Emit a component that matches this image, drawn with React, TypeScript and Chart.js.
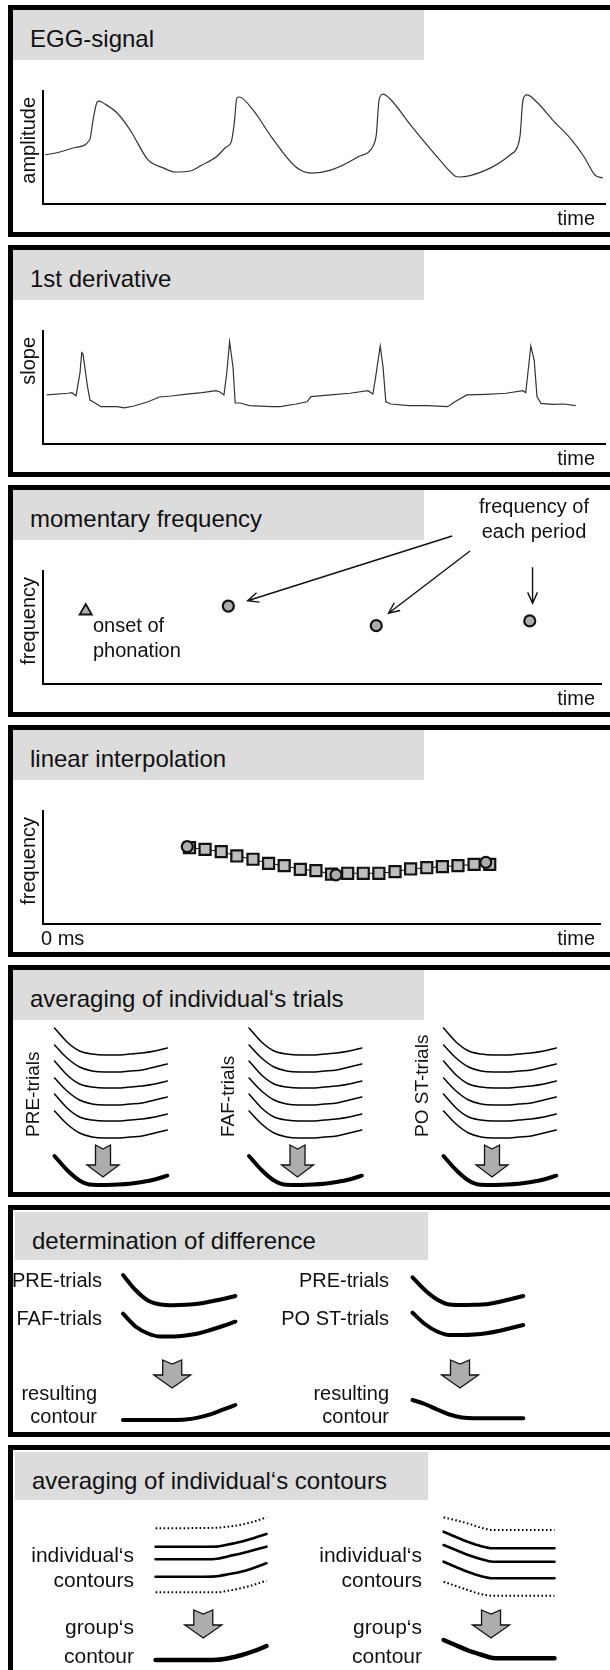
import React, { useEffect, useRef } from "react";
import { Chart, registerables } from "chart.js";

Chart.register(...registerables);

const FONT = '"Liberation Sans", Arial, Helvetica, sans-serif';
Chart.defaults.font.family = FONT;

// ---------------- data ----------------
const PANEL_TITLES = [
  "EGG-signal",
  "1st derivative",
  "momentary frequency",
  "linear interpolation",
  "averaging of individual‘s trials",
  "determination of difference",
  "averaging of individual‘s contours",
];

// Panel 1: EGG signal (time 0..100, amplitude 0..10)
const EGG_TIME = [0.4, 3.0, 5.7, 8.3, 8.9, 9.6, 10.0, 11.0, 13.2, 15.5, 18.7, 21.4, 23.5, 26.2, 28.3, 30.8, 32.6, 33.5, 34.0, 34.5, 34.9, 37.4, 40.7, 45.0, 47.7, 51.2, 56.0, 58.8, 59.3, 59.8, 60.5, 61.6, 65.7, 70.6, 73.3, 74.0, 78.8, 83.1, 84.4, 84.9, 85.4, 86.1, 87.9, 90.7, 94.1, 96.3, 98.2, 99.6];
const EGG_AMPLITUDE = [4.34, 4.6, 5.0, 5.66, 7.4, 9.0, 9.1, 8.85, 8.05, 6.55, 3.9, 3.2, 2.83, 2.92, 3.45, 4.16, 5.04, 5.5, 7.0, 9.38, 9.47, 8.3, 5.9, 3.27, 2.74, 3.0, 4.16, 5.2, 6.1, 9.2, 9.73, 9.38, 6.8, 3.9, 2.48, 2.39, 3.0, 4.34, 5.04, 6.1, 9.2, 9.65, 9.0, 7.43, 5.66, 4.16, 2.57, 2.3];

// Panel 2: first derivative
const SLOPE_TIME = [0.66, 4.45, 5.16, 5.87, 6.58, 6.89, 7.12, 7.92, 8.36, 9.25, 10.3, 13.2, 14.5, 16.2, 18.7, 20.7, 22.8, 25.6, 28.3, 30.8, 31.5, 32.2, 32.7, 33.2, 33.8, 34.2, 35.1, 36.7, 40.7, 42.2, 45.0, 47.0, 47.7, 51.2, 54.6, 57.8, 58.7, 59.2, 60.0, 60.5, 61.0, 61.9, 65.1, 68.5, 72.0, 73.3, 75.4, 78.8, 82.4, 85.4, 85.9, 86.4, 86.8, 87.4, 87.9, 88.6, 90.7, 92.7, 94.8];
const SLOPE_VALUE = [4.34, 4.49, 4.54, 4.25, 6.28, 8.08, 7.96, 5.07, 3.89, 3.63, 3.3, 3.3, 3.19, 3.36, 3.74, 4.16, 4.25, 4.42, 4.54, 4.72, 4.6, 4.34, 6.28, 9.05, 6.84, 3.63, 3.63, 3.39, 3.3, 3.3, 3.54, 3.74, 4.19, 4.34, 4.49, 4.72, 4.42, 5.96, 8.67, 6.84, 3.74, 3.54, 3.39, 3.39, 3.3, 3.74, 4.34, 4.4, 4.49, 4.72, 4.54, 6.84, 8.67, 7.43, 4.19, 3.6, 3.51, 3.54, 3.39];

// Panel 3: momentary frequency
const ONSET_TIME = [7.65];
const ONSET_FREQ = [6.46];
const PERIOD_TIME = [33.2, 59.7, 87.2];
const PERIOD_FREQ = [6.9, 5.16, 5.58];
const POINTER_FROM_TIME = [73.3, 76.5, 87.7];
const POINTER_FROM_FREQ = [13.1, 11.77, 10.33];
const POINTER_TO_TIME = [36.65, 61.9, 87.7];
const POINTER_TO_FREQ = [7.37, 6.26, 7.14];

// Panel 4: linear interpolation
const INTERP_TIME = [26.3, 29.1, 32.0, 34.8, 37.7, 40.5, 43.3, 46.2, 49.0, 51.8, 54.7, 57.5, 60.3, 63.2, 66.0, 68.9, 71.7, 74.5, 77.4, 80.2];
const INTERP_FREQ = [6.75, 6.61, 6.4, 6.02, 5.73, 5.37, 5.16, 4.84, 4.72, 4.42, 4.49, 4.49, 4.49, 4.63, 4.87, 4.98, 5.07, 5.16, 5.28, 5.28];
const MEASURED_TIME = [25.9, 52.6, 79.5];
const MEASURED_FREQ = [6.84, 4.34, 5.46];

// Panels 5-7: schematic contours, 10 samples each
const STEPS = [0, 1, 2, 3, 4, 5, 6, 7, 8, 9];
const TRIAL_1 = [172, 158, 149, 146, 145, 145, 146, 147, 149, 152];
const TRIAL_2 = [155, 142, 133, 129, 128, 128, 129, 130, 133, 136];
const TRIAL_3 = [139, 125, 116, 113, 112, 112, 113, 114, 116, 119];
const TRIAL_4 = [122, 109, 100, 96, 95, 95, 96, 97, 100, 103];
const TRIAL_5 = [106, 92, 83, 80, 79, 79, 80, 81, 83, 86];
const TRIAL_6 = [89, 76, 67, 63, 62, 62, 63, 64, 67, 70];
const TRIAL_MEAN = [44, 30, 19.5, 15.2, 15, 15.4, 16.2, 18, 20.5, 24.3];
const TRIAL_GROUPS = ["PRE-trials", "FAF-trials", "PO ST-trials"];

const DIFF_PRE_A = [175, 160, 149.5, 145.5, 144.8, 145.2, 146.2, 148.5, 151, 154];
const DIFF_FAF = [136.3, 123.5, 116.5, 113.5, 113.5, 114.5, 116.5, 120, 124, 128.3];
const DIFF_RESULT_A = [30, 30, 30, 30, 30, 30.4, 32.4, 35.7, 40.3, 45];
const DIFF_PRE_B = [172.7, 160, 150.5, 145.5, 145, 145.2, 145.7, 148, 151, 154];
const DIFF_POST = [137.3, 126, 118.5, 115, 115, 115.5, 116.7, 119, 122, 125];
const DIFF_RESULT_B = [50, 46, 40.5, 35.5, 32.5, 31.7, 31.7, 31.7, 31.7, 31.7];

const CONTOUR_A_HIGH = [171.7, 171.7, 171.8, 171.9, 172, 172.3, 173.5, 175.5, 178.5, 182.7];
const CONTOUR_A_1 = [153.3, 153.3, 153.3, 153.3, 153.3, 153.4, 155.8, 158.5, 162, 166];
const CONTOUR_A_2 = [140.7, 140.7, 140.7, 140.7, 140.7, 141.3, 144, 146.8, 150, 153.3];
const CONTOUR_A_3 = [123.3, 123.3, 123.3, 123.3, 123.3, 123.8, 126, 128.5, 132.3, 136.7];
const CONTOUR_A_LOW = [107.7, 107.7, 107.7, 107.7, 107.7, 107.7, 109.5, 112, 115.3, 119.3];
const GROUP_A = [40, 40, 40, 40, 40, 40.2, 42, 45, 49, 54];
const CONTOUR_B_HIGH = [182.7, 179.7, 176.4, 172.5, 170, 170, 170, 170, 170, 170];
const CONTOUR_B_1 = [168.3, 163, 158, 154, 151.7, 151.7, 151.7, 151.7, 151.7, 151.7];
const CONTOUR_B_2 = [155, 150, 145, 141, 138.3, 138.3, 138.3, 138.3, 138.3, 138.3];
const CONTOUR_B_3 = [138.3, 133, 128, 124, 121.7, 121.7, 121.7, 121.7, 121.7, 121.7];
const CONTOUR_B_LOW = [118.3, 114, 109.8, 106, 104.3, 104.3, 104.3, 104.3, 104.3, 104.3];
const GROUP_B = [60, 54.7, 49.5, 45.5, 42, 41.7, 41.7, 41.7, 41.7, 41.7];

// ---------------- layout ----------------
const PANEL_TOPS = [5, 245, 485, 725, 965, 1205, 1445];
const CANVAS_LEFT = 13;
const CANVAS_W = 597;
const INK = "#111";
const GREY = "#adadad";

type TextItem = { text: string; x: number; y: number; align?: CanvasTextAlign; size?: number; rotate?: boolean };
type Box = { x0: number; x1: number; y0: number; y1: number };
type ArrowSize = { head: number; shaft: number; neck: number; len: number; notch: number };

function textLayer(items: TextItem[]) {
  return {
    id: "textLayer",
    afterDraw(chart: any) {
      const ctx = chart.ctx as CanvasRenderingContext2D;
      items.forEach((it) => {
        ctx.save();
        ctx.font = `${it.size ?? 20}px ${FONT}`;
        ctx.fillStyle = INK;
        ctx.textAlign = it.align ?? "left";
        ctx.textBaseline = "alphabetic";
        ctx.translate(it.x, it.y);
        if (it.rotate) ctx.rotate(-Math.PI / 2);
        ctx.fillText(it.text, 0, 0);
        ctx.restore();
      });
    },
  };
}

function blockArrowLayer(xs: number[], ys: number[], s: ArrowSize) {
  return {
    id: "blockArrow",
    afterDatasetsDraw(chart: any) {
      const ctx = chart.ctx as CanvasRenderingContext2D;
      const sx = chart.scales.x;
      const sy = chart.scales.y;
      xs.forEach((xv, i) => {
        const cx = sx.getPixelForValue(xv);
        const top = sy.getPixelForValue(ys[i]);
        ctx.save();
        ctx.beginPath();
        ctx.moveTo(cx - s.shaft, top);
        ctx.lineTo(cx, top + s.notch);
        ctx.lineTo(cx + s.shaft, top);
        ctx.lineTo(cx + s.shaft, top + s.neck);
        ctx.lineTo(cx + s.head, top + s.neck);
        ctx.lineTo(cx, top + s.len);
        ctx.lineTo(cx - s.head, top + s.neck);
        ctx.lineTo(cx - s.shaft, top + s.neck);
        ctx.closePath();
        ctx.fillStyle = GREY;
        ctx.fill();
        ctx.lineWidth = 1.3;
        ctx.strokeStyle = INK;
        ctx.lineJoin = "miter";
        ctx.stroke();
        ctx.restore();
      });
    },
  };
}

function pointerLayer() {
  return {
    id: "pointers",
    afterDatasetsDraw(chart: any) {
      const ctx = chart.ctx as CanvasRenderingContext2D;
      const sx = chart.scales.x;
      const sy = chart.scales.y;
      POINTER_FROM_TIME.forEach((_, i) => {
        const x1 = sx.getPixelForValue(POINTER_FROM_TIME[i]);
        const y1 = sy.getPixelForValue(POINTER_FROM_FREQ[i]);
        const x2 = sx.getPixelForValue(POINTER_TO_TIME[i]);
        const y2 = sy.getPixelForValue(POINTER_TO_FREQ[i]);
        const a = Math.atan2(y2 - y1, x2 - x1);
        const L = 12;
        const w = 0.42;
        ctx.save();
        ctx.strokeStyle = INK;
        ctx.lineWidth = 1.4;
        ctx.beginPath();
        ctx.moveTo(x1, y1);
        ctx.lineTo(x2, y2);
        ctx.moveTo(x2 - L * Math.cos(a - w), y2 - L * Math.sin(a - w));
        ctx.lineTo(x2, y2);
        ctx.lineTo(x2 - L * Math.cos(a + w), y2 - L * Math.sin(a + w));
        ctx.stroke();
        ctx.restore();
      });
    },
  };
}

const hiddenPlugins = { legend: { display: false }, tooltip: { enabled: false } };

function axisScale(max: number) {
  return {
    type: "linear",
    min: 0,
    max,
    grid: { display: false, drawTicks: false },
    ticks: { display: false },
    border: { display: true, color: "#000", width: 2 },
  };
}

function axisConfig(datasets: any[], yLabel: string, extraTexts: TextItem[], extra: any[] = []) {
  const texts: TextItem[] = [
    { text: yLabel, x: 22, y: 87, align: "right", rotate: true },
    { text: "time", x: 582, y: 215, align: "right" },
    ...extraTexts,
  ];
  return {
    type: "scatter",
    data: { datasets },
    options: {
      animation: false,
      responsive: false,
      devicePixelRatio: 1,
      events: [],
      layout: { padding: { left: 30, right: 5, top: 81, bottom: 28 } },
      plugins: hiddenPlugins,
      scales: { x: axisScale(100), y: axisScale(10) },
    },
    plugins: [...extra, textLayer(texts)],
  };
}

function pairs(xs: number[], ys: number[]) {
  return xs.map((x, i) => ({ x, y: ys[i] }));
}

function curve(values: number[], width: number, dash: number[] = []) {
  return {
    data: pairs(STEPS, values),
    borderColor: "#000",
    borderWidth: width,
    borderDash: dash,
    borderCapStyle: dash.length ? "butt" : "round",
    pointRadius: 0,
    cubicInterpolationMode: "monotone",
    fill: false,
    clip: false,
  };
}

function schemeConfig(panelTop: number, canvasH: number, box: Box, yMin: number, yMax: number, datasets: any[], texts: TextItem[], arrowX: number, arrowY: number, size: ArrowSize) {
  const top = panelTop + 5;
  return {
    type: "line",
    data: { datasets },
    options: {
      animation: false,
      responsive: false,
      devicePixelRatio: 1,
      events: [],
      layout: { padding: { left: box.x0 - CANVAS_LEFT, right: CANVAS_LEFT + CANVAS_W - box.x1, top: box.y0 - top, bottom: top + canvasH - box.y1 } },
      plugins: hiddenPlugins,
      scales: {
        x: { type: "linear", display: false, min: 0, max: 9 },
        y: { type: "linear", display: false, min: yMin, max: yMax },
      },
    },
    plugins: [blockArrowLayer([arrowX], [arrowY], size), textLayer(texts)],
  };
}

function Plot({ panelTop, height = 222, make }: { panelTop: number; height?: number; make: () => any }) {
  const ref = useRef<HTMLCanvasElement | null>(null);
  useEffect(() => {
    const chart = new Chart(ref.current as HTMLCanvasElement, make());
    return () => chart.destroy();
  }, []);
  return (
    <canvas
      ref={ref}
      width={CANVAS_W}
      height={height}
      style={{ position: "absolute", left: CANVAS_LEFT, top: panelTop + 5, width: CANVAS_W, height }}
    />
  );
}

function Frame({ index }: { index: number }) {
  const top = PANEL_TOPS[index];
  const last = index === PANEL_TOPS.length - 1;
  const wide = index >= 5;
  const barLeft = wide ? 15 : 13;
  const barTop = top + (wide ? 7 : 5);
  const barW = wide ? 413 : 411;
  const barH = wide ? 48 : 50;
  return (
    <>
      <div
        style={{
          position: "absolute",
          left: 8,
          top,
          width: 640,
          height: last ? 400 : 232,
          boxSizing: "border-box",
          borderTop: "5px solid #000",
          borderLeft: "5px solid #000",
          borderBottom: last ? "none" : "5px solid #000",
        }}
      />
      <div style={{ position: "absolute", left: barLeft, top: barTop, width: barW, height: barH, background: "#dcdcdc" }} />
      <div
        style={{
          position: "absolute",
          left: barLeft + 17,
          top: barTop + 37 - 20.3,
          fontFamily: FONT,
          fontSize: 24,
          lineHeight: "24px",
          color: INK,
          whiteSpace: "nowrap",
        }}
      >
        {PANEL_TITLES[index]}
      </div>
    </>
  );
}

const P5 = PANEL_TOPS[4];
const P6 = PANEL_TOPS[5];
const P7 = PANEL_TOPS[6];
const ARROW5: ArrowSize = { head: 16, shaft: 7.5, neck: 20, len: 32, notch: 4 };
const ARROW67: ArrowSize = { head: 18.5, shaft: 9.5, neck: 15, len: 28, notch: 4 };

export default function App() {
  const makeEgg = () =>
    axisConfig(
      [{ data: pairs(EGG_TIME, EGG_AMPLITUDE), showLine: true, borderColor: "#333", borderWidth: 1.2, pointRadius: 0, cubicInterpolationMode: "monotone" }],
      "amplitude",
      []
    );
  const makeSlope = () =>
    axisConfig(
      [{ data: pairs(SLOPE_TIME, SLOPE_VALUE), showLine: true, borderColor: "#333", borderWidth: 1.2, pointRadius: 0 }],
      "slope",
      []
    );
  const makeMomentary = () =>
    axisConfig(
      [
        { data: pairs(PERIOD_TIME, PERIOD_FREQ), pointStyle: "circle", pointRadius: 5.5, pointBorderWidth: 2.2, pointBorderColor: INK, pointBackgroundColor: GREY },
        { data: pairs(ONSET_TIME, ONSET_FREQ), pointStyle: "triangle", pointRadius: 7, pointBorderWidth: 1.8, pointBorderColor: INK, pointBackgroundColor: GREY },
      ],
      "frequency",
      [
        { text: "frequency of", x: 521, y: 22.5, align: "center" },
        { text: "each period", x: 521, y: 47.5, align: "center" },
        { text: "onset of", x: 80, y: 142 },
        { text: "phonation", x: 80, y: 167 },
      ],
      [pointerLayer()]
    );
  const makeInterp = () =>
    axisConfig(
      [
        { data: pairs(MEASURED_TIME, MEASURED_FREQ), pointStyle: "circle", pointRadius: 5.5, pointBorderWidth: 2.2, pointBorderColor: INK, pointBackgroundColor: GREY },
        {
          data: pairs(INTERP_TIME, INTERP_FREQ),
          showLine: true,
          borderColor: INK,
          borderWidth: 1,
          pointStyle: "rect",
          pointRadius: 7.8,
          pointBorderWidth: 2.2,
          pointBorderColor: INK,
          pointBackgroundColor: "#bdbdbd",
        },
      ],
      "frequency",
      [{ text: "0 ms", x: 28, y: 215 }]
    );

  const trialDatasets = () => [
    curve(TRIAL_1, 1.5),
    curve(TRIAL_2, 1.5),
    curve(TRIAL_3, 1.5),
    curve(TRIAL_4, 1.5),
    curve(TRIAL_5, 1.5),
    curve(TRIAL_6, 1.5),
    curve(TRIAL_MEAN, 4),
  ];
  const trialBoxes: Box[] = [
    { x0: 54.5, x1: 167.3, y0: 1020, y1: 1190 },
    { x0: 249, x1: 361.8, y0: 1020, y1: 1190 },
    { x0: 443.5, x1: 556.3, y0: 1020, y1: 1190 },
  ];
  const labelX = [26, 220.5, 415];

  const dot = [1.6, 2.4];

  return (
    <div style={{ position: "absolute", left: 0, top: 0, width: 610, height: 1670, overflow: "hidden", background: "#fff" }}>
      {PANEL_TOPS.map((_, i) => (
        <Frame key={i} index={i} />
      ))}
      <Plot panelTop={PANEL_TOPS[0]} make={makeEgg} />
      <Plot panelTop={PANEL_TOPS[1]} make={makeSlope} />
      <Plot panelTop={PANEL_TOPS[2]} make={makeMomentary} />
      <Plot panelTop={PANEL_TOPS[3]} make={makeInterp} />
      {trialBoxes.map((box, g) => (
        <Plot
          key={"t" + g}
          panelTop={P5}
          make={() =>
            schemeConfig(P5, 222, box, 10, 180, trialDatasets(), [{ text: TRIAL_GROUPS[g], x: labelX[g], y: 167, rotate: true, size: 19 }], 3.87, 55, ARROW5)
          }
        />
      ))}
      <Plot
        panelTop={P6}
        make={() =>
          schemeConfig(
            P6,
            222,
            { x0: 123, x1: 235.4, y0: 1270, y1: 1430 },
            20,
            180,
            [curve(DIFF_PRE_A, 4), curve(DIFF_FAF, 4), curve(DIFF_RESULT_A, 4)],
            [
              { text: "PRE-trials", x: 89, y: 77, align: "right" },
              { text: "FAF-trials", x: 89, y: 115, align: "right" },
              { text: "resulting", x: 84, y: 190, align: "right" },
              { text: "contour", x: 84, y: 213, align: "right" },
            ],
            3.94,
            90,
            ARROW67
          )
        }
      />
      <Plot
        panelTop={P6}
        make={() =>
          schemeConfig(
            P6,
            222,
            { x0: 412.5, x1: 523.3, y0: 1270, y1: 1430 },
            20,
            180,
            [curve(DIFF_PRE_B, 4), curve(DIFF_POST, 4), curve(DIFF_RESULT_B, 4)],
            [
              { text: "PRE-trials", x: 376, y: 77, align: "right" },
              { text: "PO ST-trials", x: 376, y: 115, align: "right" },
              { text: "resulting", x: 376, y: 190, align: "right" },
              { text: "contour", x: 376, y: 213, align: "right" },
            ],
            3.86,
            90,
            ARROW67
          )
        }
      />
      <Plot
        panelTop={P7}
        height={220}
        make={() =>
          schemeConfig(
            P7,
            220,
            { x0: 155.6, x1: 266.5, y0: 1460, y1: 1665 },
            35,
            240,
            [
              curve(CONTOUR_A_HIGH, 2, dot),
              curve(CONTOUR_A_1, 2.6),
              curve(CONTOUR_A_2, 2.6),
              curve(CONTOUR_A_3, 2.6),
              curve(CONTOUR_A_LOW, 2, dot),
              curve(GROUP_A, 4.5),
            ],
            [
              { text: "individual‘s", x: 121, y: 112, align: "right", size: 21 },
              { text: "contours", x: 121, y: 137, align: "right", size: 21 },
              { text: "group‘s", x: 121, y: 184, align: "right", size: 21 },
              { text: "contour", x: 121, y: 213, align: "right", size: 21 },
            ],
            3.87,
            90,
            ARROW67
          )
        }
      />
      <Plot
        panelTop={P7}
        height={220}
        make={() =>
          schemeConfig(
            P7,
            220,
            { x0: 443.6, x1: 554.5, y0: 1460, y1: 1665 },
            35,
            240,
            [
              curve(CONTOUR_B_HIGH, 2, dot),
              curve(CONTOUR_B_1, 2.6),
              curve(CONTOUR_B_2, 2.6),
              curve(CONTOUR_B_3, 2.6),
              curve(CONTOUR_B_LOW, 2, dot),
              curve(GROUP_B, 4.5),
            ],
            [
              { text: "individual‘s", x: 409, y: 112, align: "right", size: 21 },
              { text: "contours", x: 409, y: 137, align: "right", size: 21 },
              { text: "group‘s", x: 409, y: 184, align: "right", size: 21 },
              { text: "contour", x: 409, y: 213, align: "right", size: 21 },
            ],
            3.85,
            90,
            ARROW67
          )
        }
      />
    </div>
  );
}
